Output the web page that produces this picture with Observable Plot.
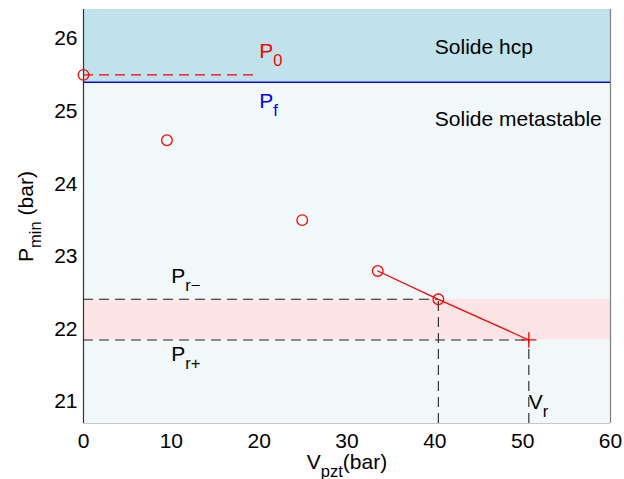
<!DOCTYPE html>
<html><head><meta charset="utf-8">
<script src="https://cdn.jsdelivr.net/npm/d3@7"></script>
<script src="https://cdn.jsdelivr.net/npm/@observablehq/plot@0.6"></script>
<style>body{margin:0;background:#fff} svg{display:block}</style>
</head><body><div id="chart"></div>
<script>
// measured points
const vpzt = [0, 9.5, 24.9, 33.5, 40.4];
const pmin = [25.5, 24.6, 23.5, 22.8, 22.41];
// linear fit segment
const fitV = [33.5, 40.4, 50.7];
const fitP = [22.8, 22.41, 21.85];
// reference levels
const P0 = 25.5, P0End = 20;
const Pf = 25.4;
const PrMinus = 22.41, PrPlus = 21.85;
const VrMinus = 40.4, Vr = 50.7;
const xTicks = [0, 10, 20, 30, 40, 50, 60];
const yTicks = [21, 22, 23, 24, 25, 26];
const xDomain = [0, 60], yDomain = [20.7, 26.4];

const points = vpzt.map((v, i) => ({v, p: pmin[i]}));
const fit = fitV.map((v, i) => ({v, p: fitP[i]}));
const bands = [
  {y1: Pf, y2: yDomain[1], fill: "#c0e2ea"},
  {y1: yDomain[0], y2: Pf, fill: "#f0f8fa"},
  {y1: PrPlus, y2: PrMinus, fill: "#fde5e5"}
];
const hDash = [{y: PrMinus, x2: VrMinus}, {y: PrPlus, x2: Vr}];
const vDash = [{x: VrMinus, y2: PrMinus}, {x: Vr, y2: PrPlus}];

const font = "'Liberation Sans', Arial, Helvetica, sans-serif";

const chart = Plot.plot({
  width: 624, height: 479,
  marginLeft: 83, marginRight: 14, marginTop: 9, marginBottom: 56,
  style: {fontSize: "21px", fontFamily: font, background: "#fff", color: "#000"},
  x: {domain: xDomain, ticks: xTicks, tickSize: 0, tickPadding: 10, tickFormat: "d", label: null},
  y: {domain: yDomain, ticks: yTicks, tickSize: 0, tickPadding: 6, tickFormat: "d", label: null},
  marks: [
    Plot.rect(bands, {x1: () => xDomain[0], x2: () => xDomain[1], y1: "y1", y2: "y2", fill: "fill"}),
    Plot.ruleY([yDomain[0]], {stroke: "#c8c8c8", strokeWidth: 1.2}),
    Plot.ruleX([xDomain[1]], {stroke: "#808080", strokeWidth: 1.2}),
    Plot.ruleX([xDomain[0]], {stroke: "#333", strokeWidth: 1.2}),
    Plot.ruleY([Pf], {x1: xDomain[0], x2: xDomain[1], stroke: "#0000ff", strokeWidth: 1.5}),
    Plot.ruleY([P0], {x1: xDomain[0], x2: P0End, stroke: "#ff0000", strokeWidth: 1.2, strokeDasharray: "10,6"}),
    Plot.ruleY(hDash, {y: "y", x1: () => xDomain[0], x2: "x2", stroke: "#222", strokeWidth: 1.1, strokeDasharray: "10,6"}),
    Plot.ruleX(vDash, {x: "x", y1: () => yDomain[0], y2: "y2", stroke: "#222", strokeWidth: 1.1, strokeDasharray: "10,6"}),
    Plot.line(fit, {x: "v", y: "p", stroke: "#ff0000", strokeWidth: 1.3}),
    Plot.dot(points, {x: "v", y: "p", r: 5.3, stroke: "#ff0000", fill: "none", strokeWidth: 1.3}),
    Plot.dot([Vr], {x: d => d, y: () => PrPlus, symbol: "plus", r: 5, stroke: "#ff0000", strokeWidth: 1.3}),
    // annotations
    Plot.text(["P_{0}"], {x: () => P0End, y: () => 25.73, textAnchor: "start", lineAnchor: "bottom", fill: "#ff0000"}),
    Plot.text(["P_{f}"], {x: () => P0End, y: () => 25.04, textAnchor: "start", lineAnchor: "bottom", fill: "#0000ff"}),
    Plot.text(["Solide hcp"], {x: () => 40, y: () => 25.785, textAnchor: "start", lineAnchor: "bottom", fill: "#000"}),
    Plot.text(["Solide metastable"], {x: () => 40, y: () => 24.79, textAnchor: "start", lineAnchor: "bottom", fill: "#000"}),
    Plot.text(["P_{r−}"], {x: () => 10, y: () => 22.64, textAnchor: "start", lineAnchor: "bottom", fill: "#000"}),
    Plot.text(["P_{r+}"], {x: () => 10, y: () => 21.56, textAnchor: "start", lineAnchor: "bottom", fill: "#000"}),
    Plot.text(["V_{r}"], {x: () => Vr, y: () => 20.905, textAnchor: "start", lineAnchor: "bottom", fill: "#000"}),
    // axis titles
    Plot.text(["V_{pzt}(bar)"], {frameAnchor: "bottom", dy: 45, lineAnchor: "bottom", textAnchor: "middle", fill: "#000"}),
    Plot.text(["P_{min} (bar)"], {frameAnchor: "left", dx: -51, rotate: -90, lineAnchor: "bottom", textAnchor: "middle", fill: "#000"})
  ]
});

// render subscripts written as _{...}
d3.select(chart).selectAll("text").each(function () {
  const t = this.textContent;
  if (!t.includes("_{")) return;
  const el = d3.select(this);
  el.text(null);
  let shifted = false;
  for (const p of t.split(/(_\{[^}]*\})/)) {
    if (!p) continue;
    if (p.startsWith("_{")) {
      el.append("tspan").attr("dy", 8).attr("font-size", 16.5).text(p.slice(2, -1));
      shifted = true;
    } else {
      const ts = el.append("tspan").text(p);
      if (shifted) { ts.attr("dy", -8); shifted = false; }
    }
  }
});

document.getElementById("chart").appendChild(chart);
</script>
</body></html>
